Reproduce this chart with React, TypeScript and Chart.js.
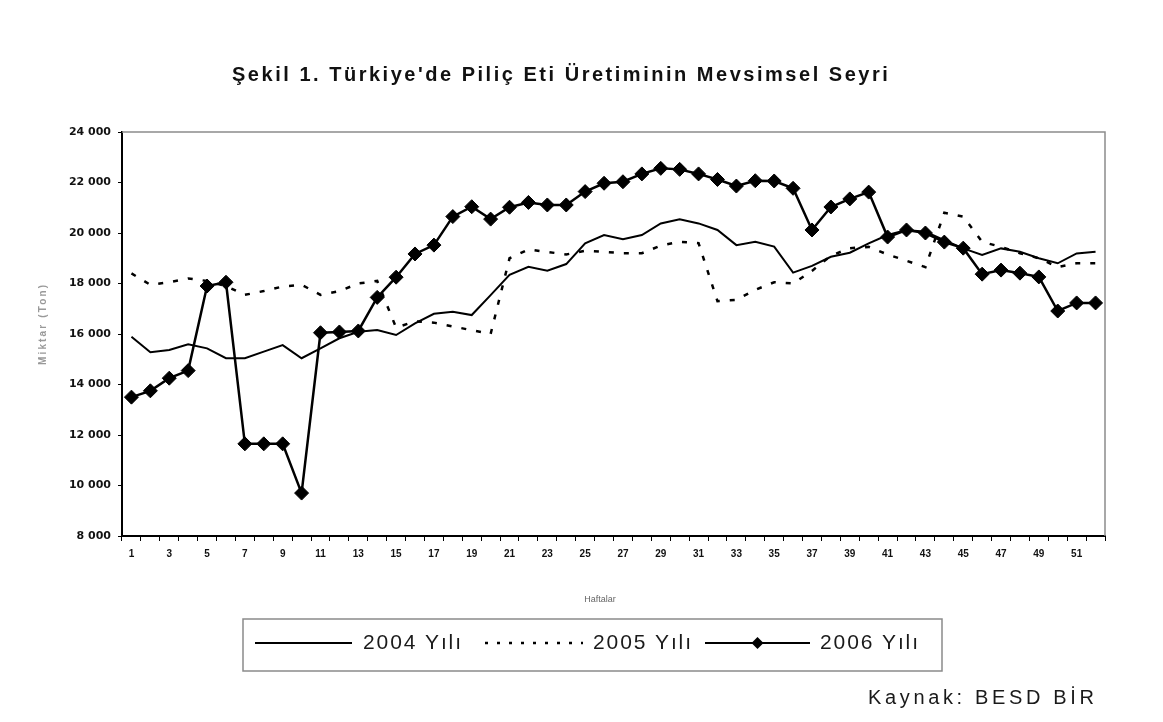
import React, { useEffect, useRef } from "react";
import { Chart, registerables } from "chart.js";

Chart.register(...registerables);

const TITLE = "Şekil 1. Türkiye'de Piliç Eti Üretiminin Mevsimsel Seyri";
const X_TITLE = "Haftalar";
const Y_TITLE = "Miktar (Ton)";
const SOURCE = "Kaynak: BESD BİR";

const weeks = [
  "1", "2", "3", "4", "5", "6", "7", "8", "9", "10",
  "11", "12", "13", "14", "15", "16", "17", "18", "19", "20",
  "21", "22", "23", "24", "25", "26", "27", "28", "29", "30",
  "31", "32", "33", "34", "35", "36", "37", "38", "39", "40",
  "41", "42", "43", "44", "45", "46", "47", "48", "49", "50",
  "51", "52",
];

const seriesNames = ["2004 Yılı", "2005 Yılı", "2006 Yılı"];

const series2004 = [
  15890, 15280, 15370, 15590, 15430, 15040, 15040, 15300, 15560, 15040,
  15430, 15830, 16090, 16160, 15960, 16420, 16800, 16880, 16750, 17540,
  18340, 18660, 18510, 18770, 19590, 19920, 19750, 19920, 20380, 20540,
  20380, 20120, 19520, 19650, 19460, 18430, 18700, 19060, 19220, 19590,
  19920, 20120, 20050, 19720, 19390, 19130, 19390, 19260, 19000, 18800,
  19190, 19260,
];

const series2005 = [
  18400, 17950, 18050, 18200, 18100, 17900, 17550, 17700, 17880, 17950,
  17550, 17700, 18000, 18100, 16250, 16500, 16450, 16300, 16150, 16000,
  19000, 19350, 19250, 19150, 19300, 19250, 19200, 19200, 19500, 19650,
  19600, 17300, 17350, 17750, 18050, 18000, 18500, 19100, 19400, 19450,
  19150, 18900, 18650, 20800, 20650, 19650, 19450, 19200, 19000, 18650,
  18800, 18800,
];

const series2006 = [
  13500, 13750, 14250, 14550, 17900, 18050, 11650, 11650, 11650, 9700,
  16050, 16080, 16120, 17450, 18250, 19170, 19520, 20650, 21040, 20550,
  21020, 21210, 21110, 21110, 21640, 21970, 22030, 22340, 22560, 22520,
  22340, 22120, 21860, 22070, 22060, 21770, 20120, 21030, 21350, 21620,
  19840, 20120, 20000, 19640, 19400, 18370, 18530, 18410, 18260, 16910,
  17230, 17230,
];

const Y_MIN = 8000;
const Y_MAX = 24000;
const Y_STEP = 2000;

function formatThousands(v: number): string {
  return String(v).replace(/\B(?=(\d{3})+(?!\d))/g, " ");
}

function drawSpaced(
  ctx: CanvasRenderingContext2D,
  text: string,
  x: number,
  y: number,
  width: number,
  font: string,
  color: string
) {
  ctx.save();
  ctx.font = font;
  ctx.fillStyle = color;
  ctx.textBaseline = "middle";
  ctx.textAlign = "left";
  (ctx as any).letterSpacing = "0px";
  const w = ctx.measureText(text).width;
  const n = Array.from(text).length;
  const sp = n > 1 ? (width - w) / (n - 1) : 0;
  (ctx as any).letterSpacing = sp.toFixed(2) + "px";
  ctx.fillText(text, x, y);
  ctx.restore();
}

const decorPlugin = {
  id: "decor",
  beforeDatasetsDraw(chart: any) {
    const { ctx, chartArea: a } = chart;
    ctx.save();
    ctx.strokeStyle = "#8c8c8c";
    ctx.lineWidth = 1.5;
    ctx.beginPath();
    ctx.moveTo(a.left, a.top);
    ctx.lineTo(a.right, a.top);
    ctx.lineTo(a.right, a.bottom);
    ctx.stroke();
    ctx.restore();
  },
  afterDraw(chart: any) {
    const { ctx } = chart;
    // Title
    drawSpaced(ctx, TITLE, 232, 75, 656, "bold 20px 'Liberation Sans', Arial, sans-serif", "#111");

    // Y axis title
    ctx.save();
    ctx.translate(43, 325);
    ctx.rotate(-Math.PI / 2);
    drawSpaced(ctx, Y_TITLE, -40, 0, 80, "bold 10px 'Liberation Sans', Arial, sans-serif", "#999");
    ctx.restore();

    // X axis title
    ctx.save();
    ctx.font = "9px 'Liberation Sans', Arial, sans-serif";
    ctx.fillStyle = "#666";
    ctx.textAlign = "center";
    ctx.textBaseline = "middle";
    ctx.fillText(X_TITLE, 600, 600);
    ctx.restore();

    // Legend box
    const box = { l: 243, t: 619, r: 942, b: 671 };
    ctx.save();
    ctx.strokeStyle = "#8a8a8a";
    ctx.lineWidth = 1.5;
    ctx.strokeRect(box.l, box.t, box.r - box.l, box.b - box.t);
    ctx.restore();

    const ly = 643;
    const items = [
      { x0: 255, x1: 352, tx: 363 },
      { x0: 485, x1: 583, tx: 593 },
      { x0: 705, x1: 810, tx: 820 },
    ];
    const ds = chart.data.datasets;
    items.forEach((it, i) => {
      const d = ds[i];
      ctx.save();
      ctx.strokeStyle = "#000";
      ctx.lineWidth = i === 1 ? 2.5 : 2;
      ctx.setLineDash(i === 1 ? [3, 9] : []);
      ctx.beginPath();
      ctx.moveTo(it.x0, ly);
      ctx.lineTo(it.x1, ly);
      ctx.stroke();
      ctx.setLineDash([]);
      if (d.pointRadius > 0) {
        const cx = (it.x0 + it.x1) / 2;
        const r = 6;
        ctx.fillStyle = "#000";
        ctx.beginPath();
        ctx.moveTo(cx - r, ly);
        ctx.lineTo(cx, ly - r);
        ctx.lineTo(cx + r, ly);
        ctx.lineTo(cx, ly + r);
        ctx.closePath();
        ctx.fill();
      }
      ctx.restore();
      drawSpaced(ctx, d.label, it.tx, ly, 98, "21px 'Liberation Sans', Arial, sans-serif", "#1a1a1a");
    });

    // Source
    drawSpaced(ctx, SOURCE, 868, 698, 226, "20px 'Liberation Sans', Arial, sans-serif", "#1a1a1a");
  },
};

export default function App() {
  const canvasRef = useRef<HTMLCanvasElement | null>(null);

  useEffect(() => {
    const canvas = canvasRef.current;
    if (!canvas) return;
    const chart = new Chart(canvas, {
      type: "line",
      data: {
        labels: weeks,
        datasets: [
          {
            label: seriesNames[0],
            data: series2004,
            borderColor: "#000",
            backgroundColor: "#000",
            borderWidth: 2,
            pointRadius: 0,
            tension: 0,
          },
          {
            label: seriesNames[1],
            data: series2005,
            borderColor: "#000",
            backgroundColor: "#000",
            borderWidth: 2.5,
            borderDash: [5, 10],
            pointRadius: 0,
            tension: 0,
          },
          {
            label: seriesNames[2],
            data: series2006,
            borderColor: "#000",
            backgroundColor: "#000",
            borderWidth: 2.5,
            pointRadius: 7,
            pointStyle: "rectRot",
            pointBackgroundColor: "#000",
            pointBorderColor: "#000",
            pointBorderWidth: 1,
            tension: 0,
          },
        ],
      },
      options: {
        animation: false,
        responsive: true,
        maintainAspectRatio: false,
        events: [],
        layout: { padding: { top: 132, right: 58, left: 0, bottom: 0 } },
        plugins: {
          legend: { display: false },
          title: { display: false },
          tooltip: { enabled: false },
        },
        scales: {
          x: {
            type: "category",
            offset: true,
            afterFit: (s: any) => {
              s.height = 186;
            },
            grid: {
              offset: true,
              drawOnChartArea: false,
              drawTicks: true,
              tickLength: 5,
              color: "#000",
              lineWidth: 1,
            },
            border: { display: true, color: "#000", width: 2 },
            ticks: {
              autoSkip: false,
              maxRotation: 0,
              minRotation: 0,
              padding: 7,
              color: "#111",
              font: { family: "'Liberation Sans', Arial, sans-serif", size: 10, weight: "bold" },
              callback: (_v: any, idx: number) => (idx % 2 === 0 ? weeks[idx] : ""),
            },
          },
          y: {
            min: Y_MIN,
            max: Y_MAX,
            afterFit: (s: any) => {
              s.width = 122;
            },
            grid: {
              drawOnChartArea: false,
              drawTicks: true,
              tickLength: 4,
              color: "#000",
            },
            border: { display: true, color: "#000", width: 2 },
            ticks: {
              stepSize: Y_STEP,
              padding: 7,
              color: "#111",
              font: { family: "'DejaVu Sans', sans-serif", size: 11, weight: "bold" },
              callback: (v: any) => formatThousands(Number(v)),
            },
          },
        },
      },
      plugins: [decorPlugin],
    });
    return () => chart.destroy();
  }, []);

  return (
    <div
      style={{
        position: "fixed",
        left: 0,
        top: 0,
        width: 1163,
        height: 722,
        background: "#fff",
      }}
    >
      <canvas ref={canvasRef} />
    </div>
  );
}
